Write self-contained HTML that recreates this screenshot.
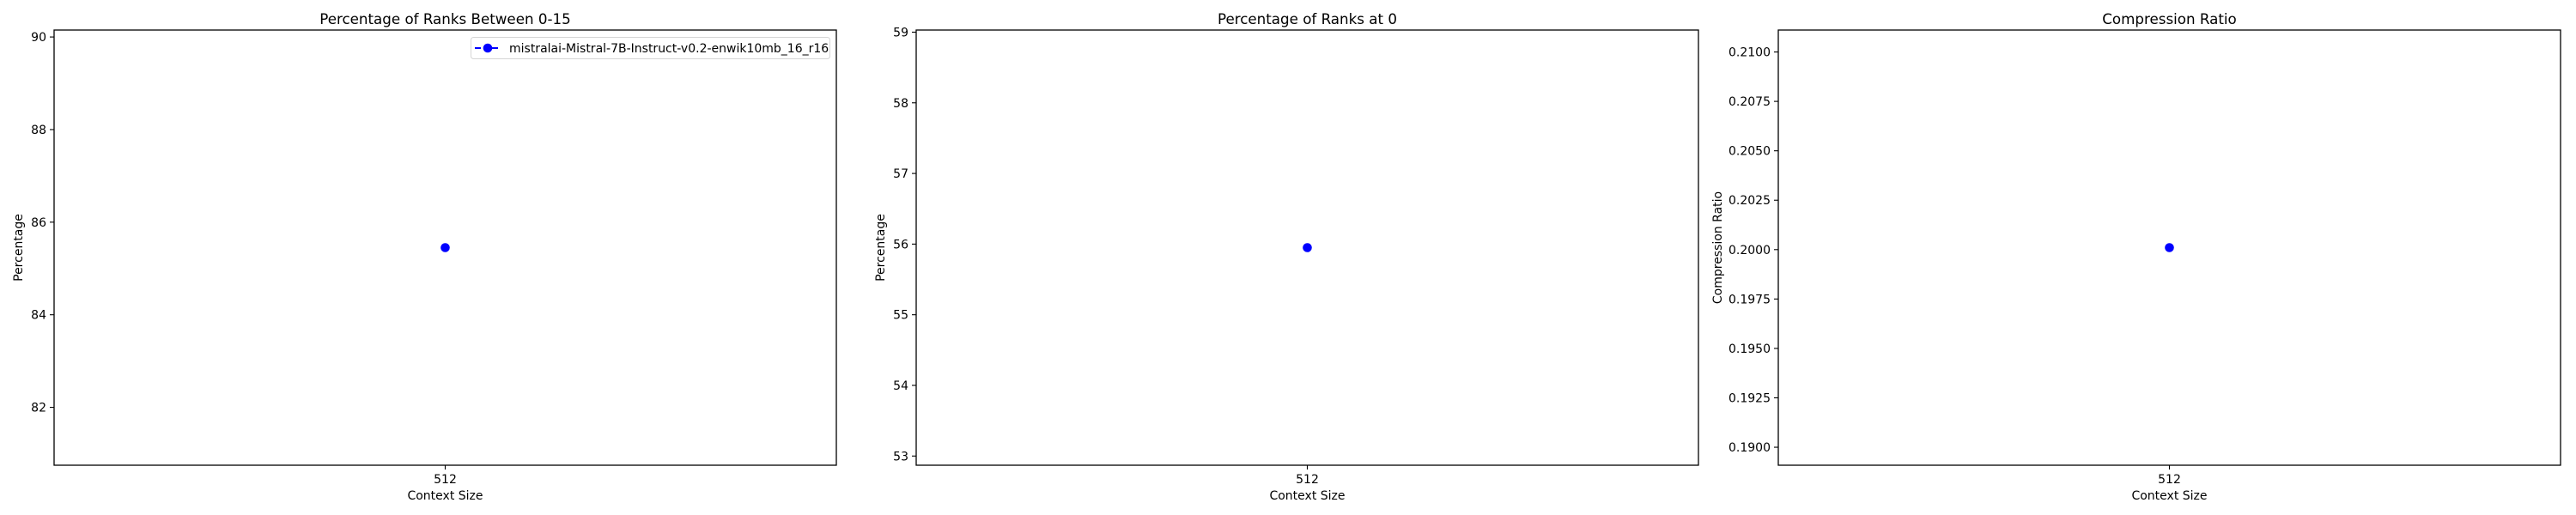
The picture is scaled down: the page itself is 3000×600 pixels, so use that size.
<!DOCTYPE html>
<html><head><meta charset="utf-8"><style>
html,body{margin:0;padding:0;background:#fff;}
svg{display:block;font-family:"DejaVu Sans","Liberation Sans",sans-serif;}
</style></head><body>
<svg id="chart" width="3000" height="600" xmlns="http://www.w3.org/2000/svg"></svg>
<script>
const categories = [512];
const seriesName = "mistralai-Mistral-7B-Instruct-v0.2-enwik10mb_16_r16";
const ranksTop16 = [85.45];
const ranksAt0 = [55.95];
const compression = [0.2001];
const ticks1 = [82, 84, 86, 88, 90];
const ticks2 = [53, 54, 55, 56, 57, 58, 59];
const ticks3 = ["0.1900","0.1925","0.1950","0.1975","0.2000","0.2025","0.2050","0.2075","0.2100"];
const ylim1 = [80.75, 90.15];
const ylim2 = [52.87, 59.03];
const ylim3 = [0.18909, 0.21111];
const xlim = [486.4, 537.6];

const NS = "http://www.w3.org/2000/svg";
const svgRoot = document.getElementById("chart");
function mk(tag, attrs, parent) {
  const e = document.createElementNS(NS, tag);
  for (const k in attrs) e.setAttribute(k, attrs[k]);
  (parent || svgRoot).appendChild(e);
  return e;
}
const panels = [
  {x0:63, title:"Percentage of Ranks Between 0-15", ylabel:"Percentage", data:ranksTop16, ticks:ticks1, ylim:ylim1, name:"ranks-0-15", legend:true, ylx:22},
  {x0:1067, title:"Percentage of Ranks at 0", ylabel:"Percentage", data:ranksAt0, ticks:ticks2, ylim:ylim2, name:"ranks-at-0", legend:false, ylx:1026},
  {x0:2071, title:"Compression Ratio", ylabel:"Compression Ratio", data:compression, ticks:ticks3, ylim:ylim3, name:"compression-ratio", legend:false, ylx:2001}
];
const plotW = 911, plotTop = 35, plotBot = 542;
panels.forEach(p => {
  const g = mk("g", {});
  
  
  const xs = v => p.x0 + (v - xlim[0]) / (xlim[1] - xlim[0]) * plotW;
  const ys = v => plotBot - (v - p.ylim[0]) / (p.ylim[1] - p.ylim[0]) * (plotBot - plotTop);
  const t = mk("text", {x: p.x0 + plotW/2, y: 28, "text-anchor":"middle", "font-size":"16.7"}, g);
  t.textContent = p.title;
  
  
  p.ticks.forEach(tv => {
    const v = parseFloat(tv);
    const y = ys(v);
    const tk = mk("line", {x1:p.x0-5, x2:p.x0, y1:y, y2:y, stroke:"#000", "stroke-width":1.1}, g);
    
    
    const tl = mk("text", {x:p.x0-9, y:y+5, "text-anchor":"end", "font-size":"14"}, g);
    tl.textContent = String(tv);
    
    
  });
  categories.forEach(c => {
    const x = xs(c);
    const tk = mk("line", {x1:x, x2:x, y1:plotBot, y2:plotBot+5, stroke:"#000", "stroke-width":1.1}, g);
    
    
    const tl = mk("text", {x:x, y:plotBot+21, "text-anchor":"middle", "font-size":"14"}, g);
    tl.textContent = String(c);
    
    
  });
  const xl = mk("text", {x:p.x0 + plotW/2, y:582, "text-anchor":"middle", "font-size":"14"}, g);
  xl.textContent = "Context Size";
  
  
  const cy = (plotTop+plotBot)/2;
  const yl = mk("text", {x:p.ylx, y:cy, "text-anchor":"middle", "dominant-baseline":"middle", "font-size":"14", transform:`rotate(-90 ${p.ylx} ${cy})`}, g);
  yl.textContent = p.ylabel;
  
  
  const pts = categories.map((c,i) => [xs(c), ys(p.data[i])]);
  if (pts.length > 1) {
    const ln = mk("polyline", {points: pts.map(q=>q.join(",")).join(" "), fill:"none", stroke:"#0000ff", "stroke-width":2, "stroke-dasharray":"7,3"}, g);
    
    
  }
  pts.forEach(q => {
    const c = mk("circle", {cx:q[0], cy:q[1], r:5.3, fill:"#0000ff"}, g);
    
    
  });
  const fr = mk("rect", {x:p.x0, y:plotTop, width:plotW, height:plotBot-plotTop, fill:"none", stroke:"#000", "stroke-width":1.3}, g);
  
  
  if (p.legend) {
    const lg = mk("g", {}, g);
    
    
    mk("rect", {x:548.5, y:43.5, width:418, height:25, rx:3, fill:"#fff", stroke:"#d5d5d5", "stroke-width":1}, lg);
    mk("line", {x1:553, x2:581, y1:56, y2:56, stroke:"#0000ff", "stroke-width":2, "stroke-dasharray":"7,3"}, lg);
    mk("circle", {cx:568, cy:56, r:5.3, fill:"#0000ff"}, lg);
    const lt = mk("text", {x:593, y:61, "font-size":"14"}, lg);
    lt.textContent = seriesName;
    
    
  }
});
</script>
</body></html>
